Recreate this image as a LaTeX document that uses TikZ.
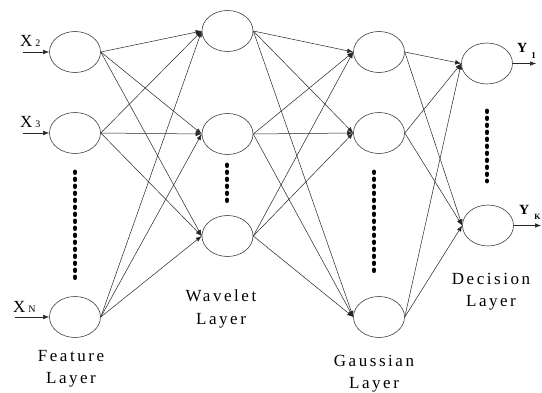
\documentclass[tikz,border=0pt]{standalone}
\usepackage{fontspec}
\setmainfont{Liberation Serif}
\newfontfamily\lblfont[LetterSpace=15]{Liberation Serif}
\usetikzlibrary{shapes.geometric,arrows.meta}
\begin{document}
\begin{tikzpicture}[x=1pt,y=-1pt,
  neuron/.style={ellipse,draw=black!75,line width=0.6pt,minimum width=51pt,minimum height=41pt,inner sep=0pt},
  conn/.style={draw=black!85,line width=0.5pt,-{Latex[length=6pt,width=4.5pt]}},
  dotcol/.style={line width=4.8pt,line cap=round,dash pattern=on 0.6pt off 6.4pt},
  layerlbl/.style={font=\fontsize{17}{22.5}\selectfont\lblfont,align=center,inner sep=0pt,anchor=north},
  inlbl/.style={font=\fontsize{17}{20}\selectfont,inner sep=0pt,anchor=base west},
  outlbl/.style={font=\fontsize{14}{17}\selectfont\bfseries,inner sep=0pt,anchor=base west}
]
\useasboundingbox (0,0) rectangle (542,393);
\fill[white] (0,0) rectangle (542,393);
% neurons
\node[neuron] (f1) at (75,52) {};
\node[neuron] (f2) at (75,133) {};
\node[neuron] (f3) at (75,317) {};
\node[neuron] (w1) at (227.5,31) {};
\node[neuron] (w2) at (227.5,134) {};
\node[neuron] (w3) at (227.5,236) {};
\node[neuron] (g1) at (379,52) {};
\node[neuron] (g2) at (379,133) {};
\node[neuron] (g3) at (379,317) {};
\node[neuron] (d1) at (487,63.5) {};
\node[neuron] (d2) at (488,225.5) {};
% connections
\foreach \a in {f1,f2,f3}{\foreach \b in {w1,w2,w3}{\draw[conn] (\a.east) -- (\b.west);}}
\foreach \a in {w1,w2,w3}{\foreach \b in {g1,g2,g3}{\draw[conn] (\a.east) -- (\b.west);}}
\foreach \a in {g1,g2,g3}{\foreach \b in {d1,d2}{\draw[conn] (\a.east) -- (\b.west);}}
% inputs
\coordinate (i1) at (23,52);
\coordinate (i2) at (23,133);
\coordinate (i3) at (15,317);
\draw[conn] (i1) -- (f1.west);
\draw[conn] (i2) -- (f2.west);
\draw[conn] (i3) -- (f3.west);
\node[inlbl] (x2) at (20,47) {X\hspace{3pt}{\fontsize{10}{12}\selectfont 2}};
\node[inlbl] (x3) at (20,128) {X\hspace{3pt}{\fontsize{10}{12}\selectfont 3}};
\node[inlbl] (xn) at (13,313) {X\hspace{3pt}{\fontsize{10}{12}\selectfont N}};
% outputs
\coordinate (o1) at (536,63.5);
\coordinate (o2) at (541,225.5);
\draw[conn] (d1.east) -- (o1);
\draw[conn] (d2.east) -- (o2);
\node[outlbl] (y1) at (517,53) {Y\hspace{4pt}\raisebox{-6pt}{\fontsize{9}{10}\selectfont 1}};
\node[outlbl] (yk) at (519,215) {Y\hspace{5pt}\raisebox{-5pt}{\fontsize{8}{10}\selectfont K}};
% dotted columns
\draw[dotcol] (75,172) -- (75,282);
\draw[dotcol] (227,165) -- (227,205);
\draw[dotcol] (374,172) -- (374,272);
\draw[dotcol] (487,111) -- (487,181);
% layer labels
\node[layerlbl] (lf) at (71,350) {Feature\\Layer};
\node[layerlbl] (lw) at (221,290) {Wavelet\\Layer};
\node[layerlbl] (lg) at (374,355) {Gaussian\\Layer};
\node[layerlbl] (ld) at (491,273) {Decision\\Layer};
\end{tikzpicture}
\end{document}
